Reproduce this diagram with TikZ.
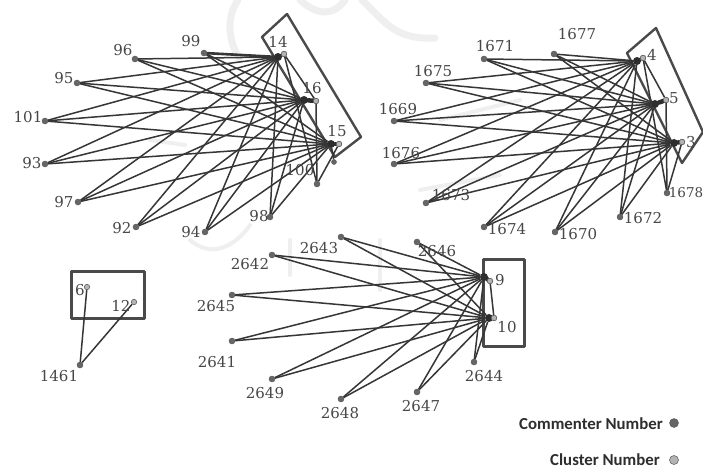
\documentclass[tikz,border=0pt]{standalone}
\usepackage{fontspec}
\setmainfont{DejaVu Serif}
\newfontfamily\legendfont{Carlito}
\definecolor{edgecol}{HTML}{363636}
\definecolor{commcol}{HTML}{666666}
\definecolor{clustcol}{HTML}{B4B4B4}
\definecolor{framecol}{HTML}{4A4A4A}
\definecolor{markcol}{HTML}{EFEFEF}
\tikzset{
  comm/.style={circle,fill=commcol,draw=commcol!80!black,line width=.4pt,minimum size=6pt,inner sep=0pt},
  clust/.style={circle,fill=clustcol,draw=commcol,line width=.6pt,minimum size=5.5pt,inner sep=0pt},
  hubdot/.style={circle,fill=edgecol!85!black,minimum size=8pt,inner sep=0pt},
  lab/.style={font=\fontsize{15}{15}\selectfont,text=black!72,inner sep=0pt},
  linkline/.style={draw=edgecol,line width=1.5pt},
  hubline/.style={draw=edgecol!85!black,line width=4.5pt,line cap=round},
  boxframe/.style={draw=framecol,line width=2.4pt,line join=round},
  legendtext/.style={font=\legendfont\bfseries\fontsize{16.8}{17}\selectfont,text=black!82,inner sep=0pt,anchor=east},
  ghost/.style={draw=markcol,line width=7pt,line cap=round}
}
\begin{document}
\begin{tikzpicture}[x=1pt,y=-1pt]
\useasboundingbox (0,0) rectangle (703,473);
\fill[white] (0,0) rectangle (703,473);
% faint background emblem
\draw[ghost] (238,0) .. controls (226,18) and (228,40) .. (240,60);
\draw[ghost] (345,0) .. controls (335,14) and (320,18) .. (300,0);
\draw[ghost] (362,0) .. controls (385,22) and (395,40) .. (435,38);
\draw[ghost,line width=4pt] (150,140) -- (185,145);
\draw[ghost,line width=4pt] (440,120) -- (520,100);
\draw[ghost,line width=4pt] (420,190) -- (500,175);
\draw[ghost,line width=4pt] (190,240) .. controls (215,262) and (240,240) .. (250,225);
\draw[ghost,line width=4pt] (380,240) -- (380,290);
\draw[ghost,line width=4pt] (290,240) -- (290,275);

% ---------- frames
\draw[boxframe] (262,37) -- (287,14) -- (361,137) -- (335,157) -- cycle;
\draw[boxframe] (627,53) -- (656,28) -- (703,132) -- (682,163) -- cycle;
\draw[boxframe,line width=3pt] (483,259) rectangle (524,346);
\draw[boxframe,line width=3pt] (71,271) rectangle (144,318);

% ---------- group 1
\foreach \n/\x/\y in {96/135/59,99/204/53,95/77/83,101/45/121,93/45/164,97/78/202,92/136/227,94/205/232,98/270/217,100/317/184}
  \node[comm] (c\n) at (\x,\y) {};
\node[clust] (k14) at (284,54) {};
\node[clust] (k16) at (316,101) {};
\node[clust] (k15) at (339,144) {};
\node[hubdot] (h14) at (278,57) {};
\node[hubdot] (h16) at (304,100) {};
\node[hubdot] (h15) at (331,144) {};
\node[comm,minimum size=5pt] (x15) at (334,162) {};
\foreach \c in {96,99,95,101,93,97,92,94,98}
  \foreach \h in {14,16,15}
    \draw[linkline] (c\c) -- (h\h);
\foreach \h in {14,16,15}
  \draw[linkline] (c100) -- (k\h);
\draw[linkline] (x15) -- (h15);
\draw[linkline] (k14) -- (k16);
\draw[hubline,line width=3pt] (h14) -- (k14);
\draw[hubline] (h16) -- (k16);
\draw[hubline] (h15) -- (k15);
\draw[linkline,line width=2.6pt] (c99) -- (h14);
\node[clust] at (k14) {};\node[clust] at (k16) {};\node[clust] at (k15) {};
\foreach \t/\x/\y in {96/123/50,99/191/41,95/64/78,101/28/117,93/32/163,97/64/202,92/122/228,94/191/232,98/259/216,100/300/170,14/278/42,16/312/88,15/337/131}
  \node[lab] (l\t) at (\x,\y) {\t};

% ---------- group 2
\foreach \n/\x/\y in {1677/554/54,1671/484/59,1675/426/83,1669/394/121,1676/394/164,1673/426/203,1674/484/227,1670/555/232,1672/620/217,1678/667/193}
  \node[comm] (c\n) at (\x,\y) {};
\node[clust] (k4) at (643,58) {};
\node[clust] (k5) at (666,100) {};
\node[clust] (k3) at (682,142) {};
\node[hubdot] (h4) at (637,61) {};
\node[hubdot] (h5) at (655,104) {};
\node[hubdot] (h3) at (674,143) {};
\foreach \c in {1677,1671,1675,1669,1676,1673,1674,1670,1672}
  \foreach \h in {4,5,3}
    \draw[linkline] (c\c) -- (h\h);
\foreach \h in {4,5,3}
  \draw[linkline] (c1678) -- (k\h);
\draw[linkline] (k4) -- (k5);
\draw[hubline,line width=3pt] (h4) -- (k4);
\draw[hubline] (h5) -- (k5);
\draw[hubline] (h3) -- (k3);
\node[clust] at (k4) {};\node[clust] at (k5) {};\node[clust] at (k3) {};
\foreach \t/\x/\y in {1677/577/34,1671/495/46,1675/433/71,1669/398/109,1676/401/153,1673/451/195,1674/507/229,1670/578/234,1672/643/218,4/652/55,5/674/98,3/691/142}
  \node[lab] (l\t) at (\x,\y) {\t};
\node[lab,font=\fontsize{13.5}{14}\selectfont] (l1678) at (686,193) {1678};

% ---------- group 3
\foreach \n/\x/\y in {2643/341/237,2646/417/242,2642/272/255,2645/232/295,2641/232/341,2649/272/379,2648/341/399,2647/417/392,2644/474/362}
  \node[comm] (c\n) at (\x,\y) {};
\node[clust] (k9) at (490,281) {};
\node[clust] (k10) at (494,318) {};
\node[hubdot] (h9) at (484,277) {};
\node[hubdot] (h10) at (489,318) {};
\foreach \c in {2643,2646,2642,2645,2641,2649,2648,2647,2644}
  \foreach \h in {9,10}
    \draw[linkline] (c\c) -- (h\h);
\draw[hubline] (h9) -- (k9);
\draw[hubline] (h10) -- (k10);
\draw[linkline] (k9) -- (k10);
\node[clust] at (k9) {};\node[clust] at (k10) {};
\foreach \t/\x/\y in {2643/319/248,2646/437/251,2642/250/264,2645/216/306,2641/217/362,2649/265/393,2648/340/413,2647/421/406,2644/484/376,9/500/280,10/507/327}
  \node[lab] (l\t) at (\x,\y) {\t};

% ---------- group 4
\node[comm] (c1461) at (80,365) {};
\node[clust] (k6) at (87,287) {};
\node[clust] (k12) at (134,302) {};
\draw[linkline] (c1461) -- (k6);
\draw[linkline] (c1461) -- (k12);
\node[lab] (l6) at (80,290) {6};
\node[lab] (l12) at (121,306) {12};
\node[lab] (l1461) at (59,376) {1461};

% ---------- legend
\node[legendtext] (t1) at (663,424) {Commenter Number};
\node[legendtext] (t2) at (660,460) {Cluster Number};
\node[comm,minimum size=9pt] (d1) at (674,423) {};
\node[clust,minimum size=9pt] (d2) at (674,460) {};
\end{tikzpicture}
\end{document}
